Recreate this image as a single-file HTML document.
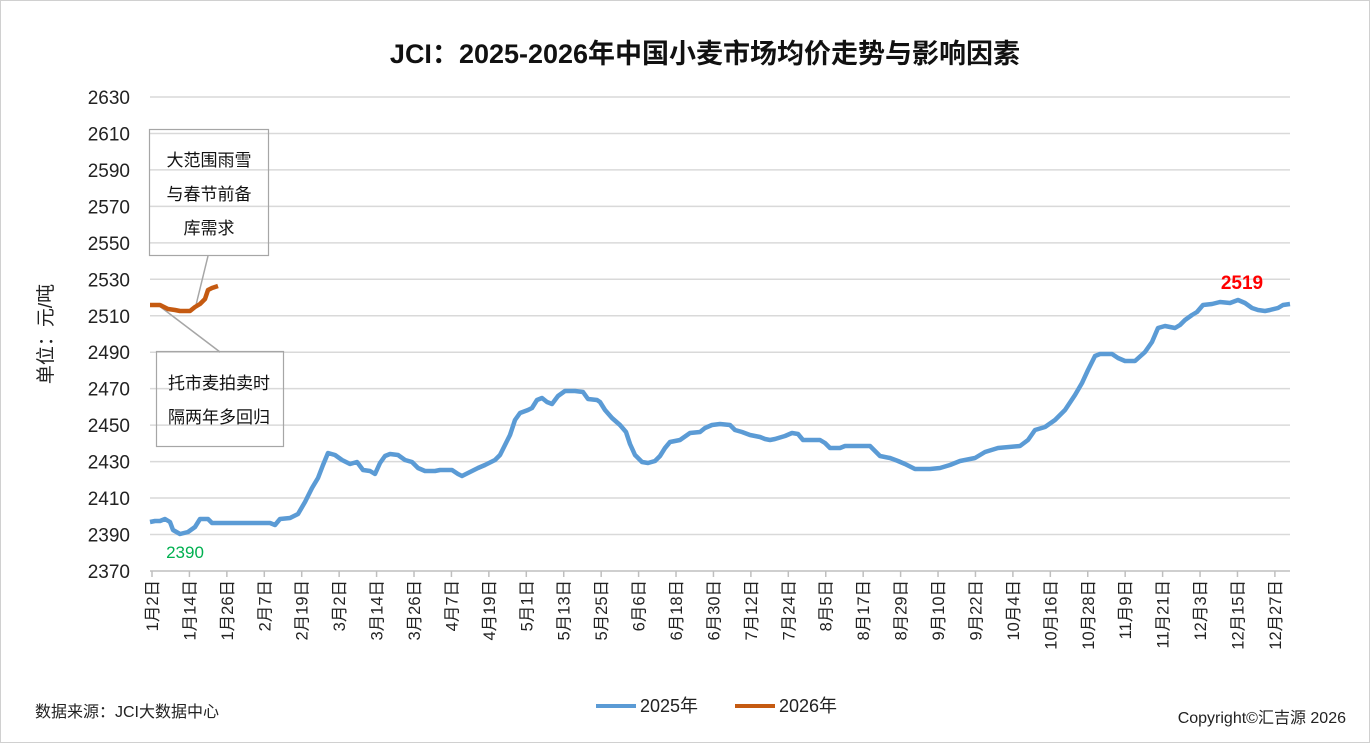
<!DOCTYPE html><html><head><meta charset="utf-8"><style>body{margin:0;background:#fff}svg{display:block;font-family:"Liberation Sans","Noto Sans CJK SC",sans-serif}</style></head><body>
<svg width="1370" height="743" viewBox="0 0 1370 743">
<rect x="0.5" y="0.5" width="1369" height="742" fill="#fff" stroke="#d0d0d0"/>
<text x="705" y="63" text-anchor="middle" font-size="27" font-weight="bold" fill="#111">JCI：2025-2026年中国小麦市场均价走势与影响因素</text>
<g id="grid" stroke="#d9d9d9" stroke-width="1.5"></g>
<g id="yl" font-size="19" fill="#222" text-anchor="end"></g>
<g id="xl" font-size="16.5" fill="#222"></g>
<line x1="150" y1="571" x2="1290" y2="571" stroke="#bfbfbf" stroke-width="1.5"/>
<text transform="translate(52,334) rotate(-90)" text-anchor="middle" font-size="19" fill="#222">单位：元/吨</text>
<line x1="208" y1="256" x2="196" y2="305" stroke="#a6a6a6" stroke-width="1.5"/>
<line x1="158" y1="305" x2="220" y2="352" stroke="#a6a6a6" stroke-width="1.5"/>
<polyline fill="none" stroke="#5b9bd5" stroke-width="4.5" stroke-linejoin="round" points="150,522 155,521 160,521 165,519 170,522 173,530 180,534 188,532 195,527 200,519 208,519 212,523 220,523 270,523 275,525 280,519 290,518 298,514 305,502 312,488 318,478 323,465 328,453 335,455 342,460 350,464 357,462 363,470 370,471 375,474 380,463 385,456 390,454 398,455 405,460 412,462 418,468 425,471 435,471 440,470 452,470 458,474 462,476 470,472 478,468 485,465 495,460 500,455 505,445 510,435 515,420 520,413 528,410 532,408 537,400 542,398 547,402 552,404 558,396 565,391 575,391 583,392 588,399 597,400 600,402 605,410 612,418 620,425 626,432 630,444 635,455 642,462 648,463 655,461 660,456 665,448 670,442 680,440 690,433 700,432 705,428 712,425 720,424 730,425 735,430 742,432 750,435 760,437 765,439 770,440 775,439 785,436 792,433 798,434 803,440 820,440 825,443 830,448 840,448 845,446 870,446 875,451 880,456 890,458 898,461 905,464 915,469 930,469 940,468 950,465 960,461 975,458 985,452 998,448 1020,446 1028,440 1035,430 1045,427 1055,420 1065,410 1075,395 1082,383 1088,370 1095,356 1100,354 1112,354 1118,358 1125,361 1135,361 1145,352 1152,342 1158,328 1165,326 1175,328 1180,325 1185,320 1192,315 1197,312 1203,305 1212,304 1220,302 1230,303 1238,300 1245,303 1252,308 1258,310 1265,311 1270,310 1278,308 1283,305 1290,304"/>
<polyline fill="none" stroke="#c55a11" stroke-width="4.5" stroke-linejoin="round" points="150,305 160,305 168,309 175,310 180,311 190,311 195,307 200,304 205,299 208,290 212,288 218,286"/>
<rect x="149.5" y="129.5" width="119" height="126" fill="none" stroke="#a6a6a6" stroke-width="1.2"/>
<g font-size="17" fill="#111" text-anchor="middle"><text x="209" y="166">大范围雨雪</text><text x="209" y="200">与春节前备</text><text x="209" y="234">库需求</text>
<text x="219" y="389">托市麦拍卖时</text><text x="219" y="423">隔两年多回归</text></g>
<rect x="156.5" y="351.5" width="127" height="95" fill="none" stroke="#a6a6a6" stroke-width="1.2"/>
<text x="1242" y="289" text-anchor="middle" font-size="19" font-weight="bold" fill="#ff0000">2519</text>
<text x="185" y="558" text-anchor="middle" font-size="17" fill="#00b050">2390</text>
<line x1="596" y1="706" x2="636" y2="706" stroke="#5b9bd5" stroke-width="4"/><text x="640" y="712" font-size="18" fill="#222">2025年</text>
<line x1="735" y1="706" x2="775" y2="706" stroke="#c55a11" stroke-width="4"/><text x="779" y="712" font-size="18" fill="#222">2026年</text>
<text x="35" y="717" font-size="16" fill="#222">数据来源：JCI大数据中心</text>
<text x="1346" y="723" text-anchor="end" font-size="16" fill="#222">Copyright©汇吉源 2026</text>
</svg>
<script>
var ns="http://www.w3.org/2000/svg",g=document.getElementById('grid'),yl=document.getElementById('yl'),xl=document.getElementById('xl');
for(var i=0;i<14;i++){var v=2630-i*20,y=97+i*36.46;if(i<13){var l=document.createElementNS(ns,'line');l.setAttribute('x1',150);l.setAttribute('x2',1290);l.setAttribute('y1',y);l.setAttribute('y2',y);g.appendChild(l);}
var t=document.createElementNS(ns,'text');t.setAttribute('x',130);t.setAttribute('y',y+7);t.textContent=v;yl.appendChild(t);}
var labs=["1月2日","1月14日","1月26日","2月7日","2月19日","3月2日","3月14日","3月26日","4月7日","4月19日","5月1日","5月13日","5月25日","6月6日","6月18日","6月30日","7月12日","7月24日","8月5日","8月17日","8月29日","9月10日","9月22日","10月4日","10月16日","10月28日","11月9日","11月21日","12月3日","12月15日","12月27日"];
for(var j=0;j<labs.length;j++){var x=152+j*37.43;var tk=document.createElementNS(ns,'line');tk.setAttribute('x1',x);tk.setAttribute('x2',x);tk.setAttribute('y1',571);tk.setAttribute('y2',577);tk.setAttribute('stroke','#bfbfbf');g.appendChild(tk);
var t=document.createElementNS(ns,'text');t.setAttribute('transform','translate('+(x+6)+',580) rotate(-90)');t.setAttribute('text-anchor','end');t.textContent=labs[j];xl.appendChild(t);}
</script>
</body></html>
